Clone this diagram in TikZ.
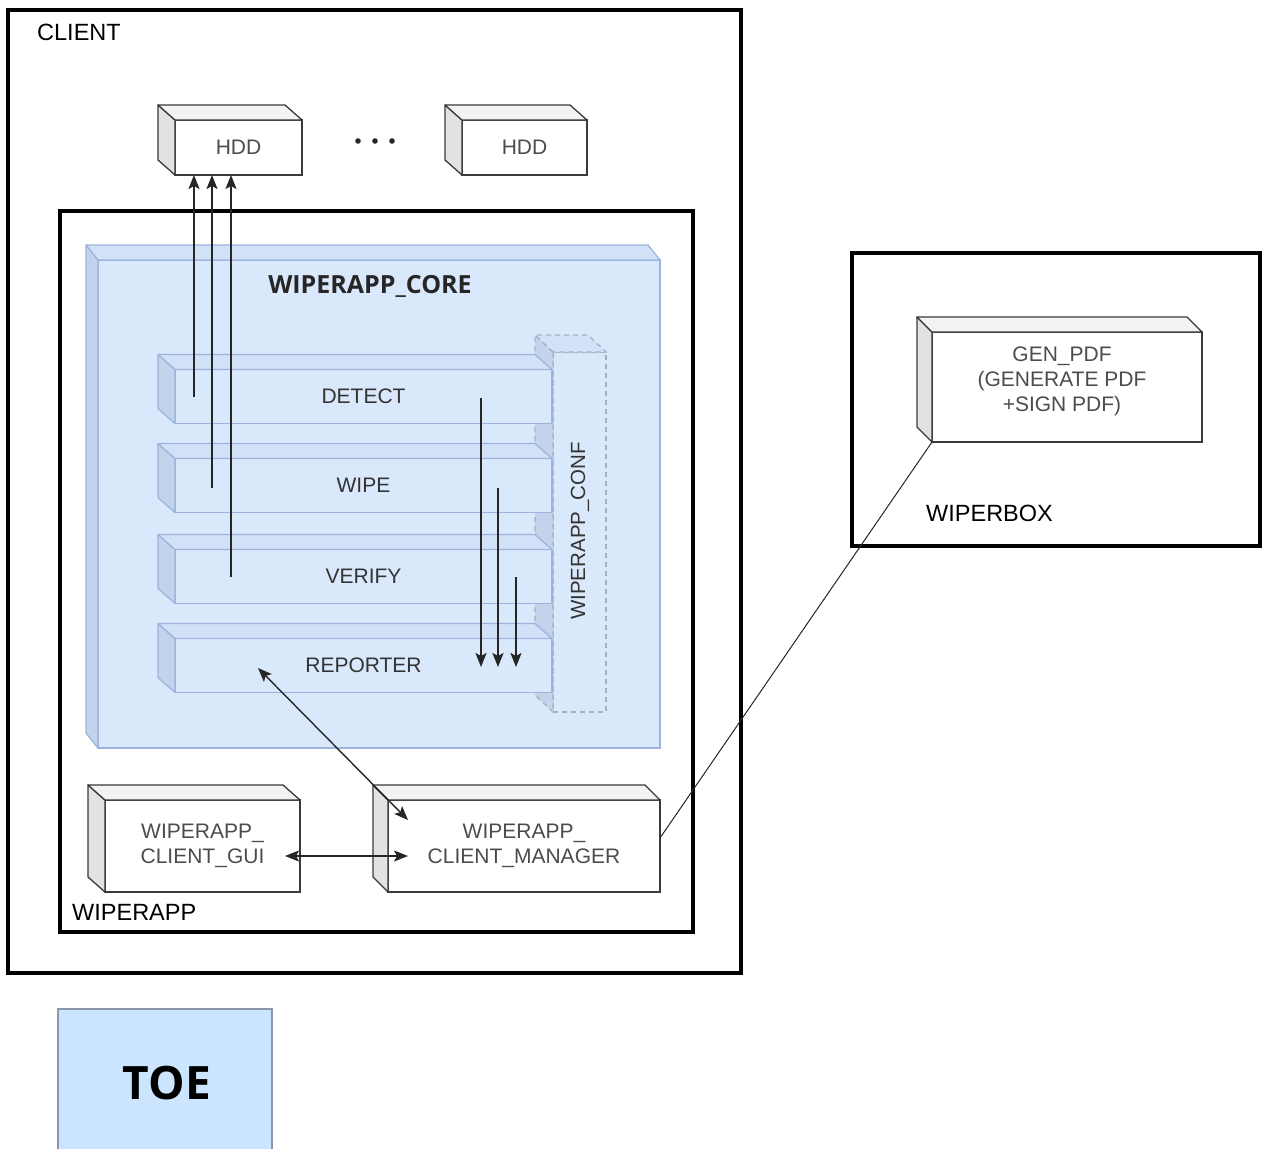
\documentclass[tikz,border=0pt]{standalone}
\usepackage{fontspec}
\setmainfont{Liberation Sans}
\newfontfamily\osans{Open Sans}
\usetikzlibrary{arrows.meta,calc}
\definecolor{bfront}{HTML}{DAE8FC}
\definecolor{bside}{HTML}{C3D3EC}
\definecolor{btop}{HTML}{D2E1F7}
\definecolor{bline}{HTML}{9DB5DD}
\definecolor{gside}{HTML}{E2E2E2}
\definecolor{gtop}{HTML}{F3F3F3}
\definecolor{gline}{HTML}{3A3A3A}
\definecolor{cline}{HTML}{A8B0BC}
\definecolor{toefill}{HTML}{CCE5FF}
\definecolor{toeline}{HTML}{8A97A8}
\newcommand{\cubefaces}[4]{%
  \filldraw[#4side] (#1.north west) -- ++(#2,#3) -- ($(#1.south west)+(#2,#3)$) -- (#1.south west) -- cycle;
  \filldraw[#4top] (#1.north west) -- ++(#2,#3) -- ($(#1.north east)+(#2,#3)$) -- (#1.north east) -- cycle;
}
\begin{document}
\begin{tikzpicture}[x=1pt,y=-1pt,
  bigbox/.style={draw=black,line width=3.6pt,fill=none,inner sep=0pt,outer sep=0pt},
  lbl/.style={font=\fontsize{23.5}{28}\selectfont,text=black,inner sep=0pt},
  grayfront/.style={draw=gline,line width=1.3pt,fill=white,inner sep=0pt,outer sep=0pt,
     font=\fontsize{21}{25}\selectfont,text=black!70,align=center},
  grayside/.style={draw=gline,line width=1.3pt,fill=gside,line join=round},
  graytop/.style={draw=gline,line width=1.3pt,fill=gtop,line join=round},
  bluefront/.style={draw=bline,line width=1.3pt,fill=bfront,inner sep=0pt,outer sep=0pt,
     font=\fontsize{21}{25}\selectfont,text=black!80},
  blueside/.style={draw=bline,line width=1.3pt,fill=bside,line join=round},
  bluetop/.style={draw=bline,line width=1.3pt,fill=btop,line join=round},
  conffront/.style={draw=cline,line width=1.3pt,dashed,dash pattern=on 5pt off 4pt,fill=bfront,inner sep=0pt,outer sep=0pt},
  confside/.style={draw=cline,line width=1.3pt,dash pattern=on 5pt off 4pt,fill=bside},
  conftop/.style={draw=cline,line width=1.3pt,dash pattern=on 5pt off 4pt,fill=btop},
  tip/.tip={Stealth[length=14pt,width=11pt,inset=3pt]},
  arr/.style={draw=black!85,line width=1.4pt,-tip},
  darr/.style={draw=black!85,line width=1.4pt,tip-tip},
  linkline/.style={draw=black!85,line width=1pt}
]
\useasboundingbox (0,0) rectangle (1262,1149);
\fill[white] (0,0) rectangle (1262,1149);

% outer containers
\node[bigbox,minimum width=733pt,minimum height=963pt] (client) at (374.5,491.5) {};
\node[lbl,anchor=base west] (clientlbl) at (37,40) {CLIENT};
\node[bigbox,minimum width=633pt,minimum height=721pt] (wiperapp) at (376.5,571.5) {};
\node[lbl,anchor=base west] (wiperapplbl) at (72,920) {WIPERAPP};
\node[bigbox,minimum width=408pt,minimum height=293pt] (wiperbox) at (1056,399.5) {};
\node[lbl,anchor=base west] (wiperboxlbl) at (926,521) {WIPERBOX};

% HDDs
\node[grayfront,minimum width=127pt,minimum height=55pt] (hdd1) at (238.5,147.5) {HDD};
\cubefaces{hdd1}{-17}{-15}{gray}
\node[grayfront,minimum width=125pt,minimum height=55pt] (hdd2) at (524.5,147.5) {HDD};
\cubefaces{hdd2}{-17}{-15}{gray}
\foreach \i/\xx in {1/358,2/375,3/392}{\fill[black!85] (\xx,141) circle (2.8pt);}

% core
\node[bluefront,minimum width=562pt,minimum height=488pt] (core) at (379,504) {};
\cubefaces{core}{-12}{-15}{blue}
\node[font=\osans\bfseries\fontsize{25}{29}\selectfont,text=black!85,inner sep=0pt] (coretitle) at (370,286) {WIPERAPP\_CORE};

% conf
\node[conffront,minimum width=53pt,minimum height=360pt] (conf) at (579.5,532) {};
\cubefaces{conf}{-18}{-17}{conf}
\node[rotate=90,font=\fontsize{20.5}{25}\selectfont,text=black!80,inner sep=0pt] (conflbl) at (580,531) {WIPERAPP\_CONF};

% modules
\node[bluefront,minimum width=377pt,minimum height=54pt] (detect) at (363.5,396.5) {DETECT};
\cubefaces{detect}{-17}{-15}{blue}
\node[bluefront,minimum width=377pt,minimum height=54pt] (wipe) at (363.5,485.5) {WIPE};
\cubefaces{wipe}{-17}{-15}{blue}
\node[bluefront,minimum width=377pt,minimum height=54pt] (verify) at (363.5,576.5) {VERIFY};
\cubefaces{verify}{-17}{-15}{blue}
\node[bluefront,minimum width=377pt,minimum height=54pt] (reporter) at (363.5,665.5) {REPORTER};
\cubefaces{reporter}{-17}{-15}{blue}

% arrows to HDD
\coordinate (u1) at (194,397);
\coordinate (u2) at (212,488);
\coordinate (u3) at (231,577);
\draw[arr] (u1) -- (u1 |- hdd1.south);
\draw[arr] (u2) -- (u2 |- hdd1.south);
\draw[arr] (u3) -- (u3 |- hdd1.south);

% arrows down to reporter
\coordinate (s1) at (481,398);
\coordinate (s2) at (498,488);
\coordinate (s3) at (516,577);
\coordinate (e1) at (481,667);
\coordinate (e2) at (498,667);
\coordinate (e3) at (516,667);
\draw[arr] (s1) -- (e1);
\draw[arr] (s2) -- (e2);
\draw[arr] (s3) -- (e3);

% client boxes
\node[grayfront,minimum width=195pt,minimum height=92pt] (gui) at (202.5,846) {WIPERAPP\_\\CLIENT\_GUI};
\cubefaces{gui}{-17}{-15}{gray}
\node[grayfront,minimum width=272pt,minimum height=92pt] (manager) at (524,846) {WIPERAPP\_\\CLIENT\_MANAGER};
\cubefaces{manager}{-15}{-15}{gray}

\coordinate (rp) at (258,668);
\coordinate (mg) at (408,820);
\draw[darr] (rp) -- (mg);
\coordinate (gr) at (285,856);
\coordinate (ml) at (408,856);
\draw[darr] (gr) -- (ml);

% GEN_PDF
\node[grayfront,minimum width=270pt,minimum height=110pt,font=\fontsize{21}{25}\selectfont] (gen) at (1067,387) {};
\node[font=\fontsize{21}{25}\selectfont,text=black!70,align=center,inner sep=0pt] (gentext) at (1062,381) {GEN\_PDF\\(GENERATE PDF\\+SIGN PDF)};
\cubefaces{gen}{-15}{-15}{gray}
\draw[linkline] ($(manager.east)+(0,-8)$) -- (gen.south west);

% TOE
\node[draw=toeline,line width=1.3pt,fill=toefill,minimum width=214pt,minimum height=160pt,inner sep=0pt] (toe) at (165,1089) {};
\node[font=\osans\bfseries\fontsize{46}{50}\selectfont,text=black,inner sep=0pt] (toelbl) at (167,1083) {TOE};
\end{tikzpicture}
\end{document}
